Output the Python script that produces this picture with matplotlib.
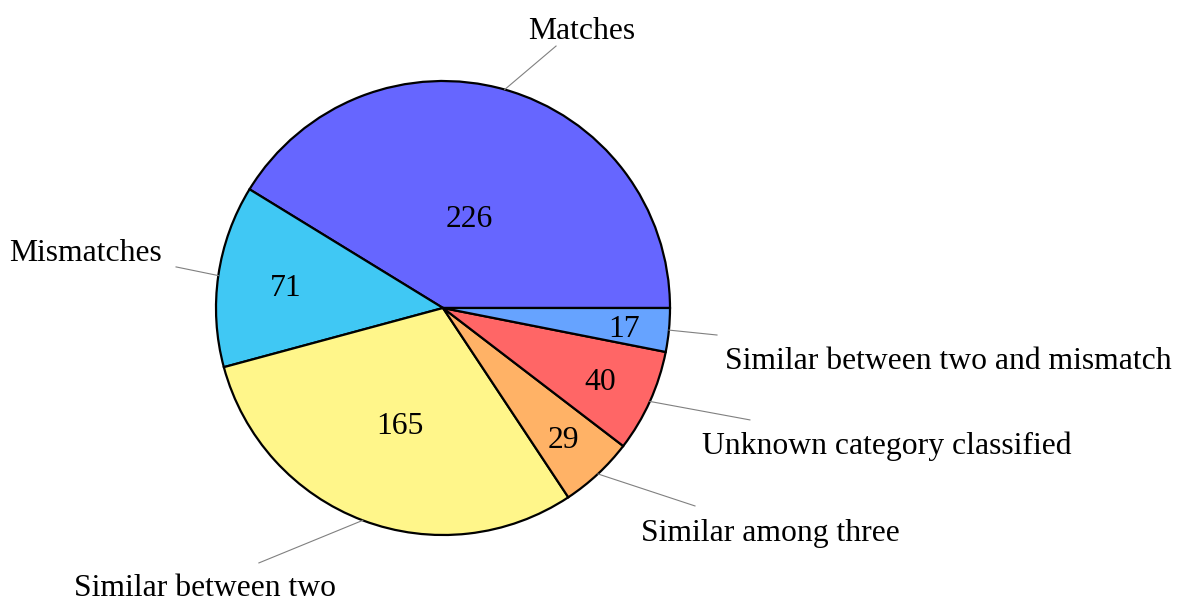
import matplotlib
matplotlib.use("Agg")
import numpy as np
import matplotlib.pyplot as plt

# slice data
categories = ["Matches", "Mismatches", "Similar between two", "Similar among three",
              "Unknown category classified", "Similar between two and mismatch"]
counts = [226, 71, 165, 29, 40, 17]

colors = ["#6666ff", "#40c8f4", "#fff68a", "#ffb266", "#ff6666", "#66a3ff"]

# layout: radius of the count text inside each slice
inner_r = [0.42, 0.70, 0.54, 0.78, 0.76, 0.80]
# layout: end of pin line (x, y) and label centre (x, y), in pie radius units
pin_end = [(0.498, 1.154), (-1.176, 0.181), (-0.811, -1.123),
           (1.11, -0.872), (1.352, -0.493), (1.207, -0.119)]
label_pos = [(0.612, 1.232), (-1.573, 0.256), (-1.048, -1.220),
             (1.441, -0.978), (1.956, -0.595), (2.225, -0.220)]
dy = -0.015  # small nudge so text sits like the original

plt.rcParams['font.family'] = ['Liberation Serif', 'DejaVu Serif']

fig = plt.figure(figsize=(11.81, 5.99), dpi=100)
ax = fig.add_axes([0, 0, 1, 1])

wedges, _ = ax.pie(counts, colors=colors, startangle=0, counterclock=True, radius=1,
                   wedgeprops=dict(edgecolor="black", linewidth=1.6))

total = sum(counts)
start = 0.0
for i, w in enumerate(wedges):
    span = counts[i] / total * 360
    mid = np.deg2rad(start + span / 2)
    start += span
    # count inside
    ax.text(inner_r[i] * np.cos(mid), inner_r[i] * np.sin(mid) + dy, str(counts[i]),
            ha="center", va="center", fontsize=22.8)
    # pin line
    ax.plot([np.cos(mid), pin_end[i][0]], [np.sin(mid), pin_end[i][1]],
            color="#808080", linewidth=0.8)
    ax.text(label_pos[i][0], label_pos[i][1] + dy, categories[i],
            ha="center", va="center", fontsize=22.8)

ax.set_aspect("auto")
ax.set_xlim(-443 / 227, (1181 - 443) / 227)
ax.set_ylim((308 - 599) / 227, 308 / 227)
ax.axis("off")

fig.savefig("out.png", dpi=100)
